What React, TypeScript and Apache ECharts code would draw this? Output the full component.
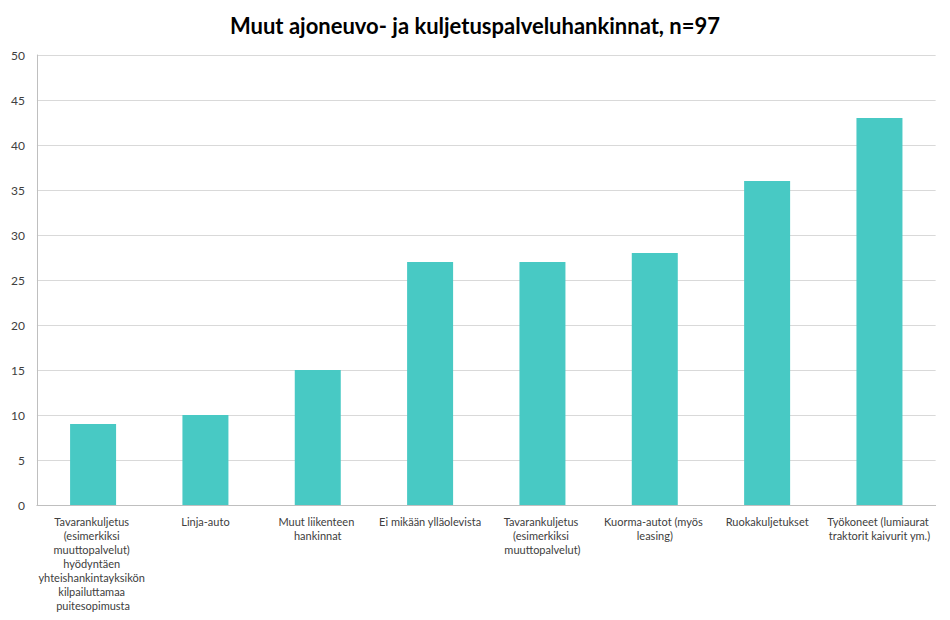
import React, { useEffect, useRef } from "react";
import * as echarts from "echarts";

const title = "Muut ajoneuvo- ja kuljetuspalveluhankinnat, n=97";
const categories = [
  "Tavarankuljetus (esimerkiksi muuttopalvelut) hyödyntäen yhteishankintayksikön kilpailuttamaa puitesopimusta",
  "Linja-auto",
  "Muut liikenteen hankinnat",
  "Ei mikään ylläolevista",
  "Tavarankuljetus (esimerkiksi muuttopalvelut)",
  "Kuorma-autot (myös leasing)",
  "Ruokakuljetukset",
  "Työkoneet (lumiaurat traktorit kaivurit ym.)",
];
const values = [9, 10, 15, 27, 27, 28, 36, 43];

export default function App() {
  const ref = useRef<HTMLDivElement>(null);
  useEffect(() => {
    const chart = echarts.init(ref.current!, null, { renderer: "svg" });
    chart.setOption({
      animation: false,
      title: {
        text: title,
        left: "center",
        top: 1,
        textStyle: { fontFamily: "Lato", fontWeight: "bold", fontSize: 22, color: "#000" },
      },
      grid: { left: 26, right: 2, top: 47, bottom: 107, containLabel: false },
      xAxis: {
        type: "category",
        data: categories,
        axisLine: { lineStyle: { color: "#bfbfbf" } },
        axisTick: { show: false },
        axisLabel: {
          interval: 0,
          width: 120,
          overflow: "break",
          color: "#404040",
          fontFamily: "Lato",
          fontSize: 11,
          lineHeight: 14,
          margin: 9,
        },
      },
      yAxis: {
        type: "value",
        min: 0,
        max: 50,
        interval: 5,
        axisLine: { show: true, lineStyle: { color: "#bfbfbf" } },
        axisTick: { show: false },
        splitLine: { lineStyle: { color: "#d9d9d9" } },
        axisLabel: { color: "#404040", fontFamily: "Lato", fontSize: 12, margin: 12 },
      },
      series: [
        {
          type: "bar",
          data: values,
          barWidth: 46,
          itemStyle: { color: "#48C9C4" },
        },
      ],
    });
    return () => chart.dispose();
  }, []);
  return <div ref={ref} style={{ width: 934, height: 604 }} />;
}
